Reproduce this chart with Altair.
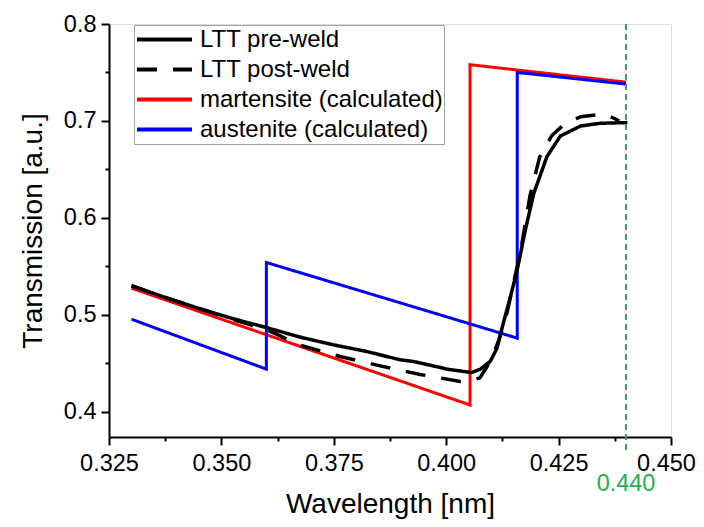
import altair as alt
import pandas as pd

# ---------------- data ----------------
series_names = ["LTT pre-weld", "LTT post-weld",
                "martensite (calculated)", "austenite (calculated)"]
series_colors = ["#000000", "#000000", "#ff0000", "#0000ff"]
series_dash = [[1, 0], [20, 16], [1, 0], [1, 0]]

pre_x = [0.330, 0.3378, 0.3452, 0.3526, 0.360, 0.3675, 0.3749, 0.3823, 0.3898,
         0.3927, 0.3987, 0.4001, 0.4039, 0.4057, 0.4076, 0.4098, 0.4113, 0.4127,
         0.4143, 0.4158, 0.4176, 0.4195, 0.4224, 0.4254, 0.4299, 0.4343, 0.4403]
pre_y = [0.530, 0.5175, 0.5063, 0.496, 0.4869, 0.477, 0.4691, 0.4622, 0.4536,
         0.4519, 0.4457, 0.444, 0.4416, 0.4405, 0.444, 0.452, 0.4656, 0.4914,
         0.519, 0.5464, 0.5876, 0.6255, 0.6632, 0.6845, 0.6948, 0.6976, 0.6983]

post_x = [0.330, 0.3378, 0.3452, 0.3526, 0.360, 0.3675, 0.3764, 0.3853, 0.3942,
          0.4031, 0.405, 0.4075, 0.4091, 0.4106, 0.4117, 0.4135, 0.4166, 0.4186,
          0.4208, 0.4235, 0.4261, 0.4299, 0.4350, 0.4373, 0.4385]
post_y = [0.530, 0.5175, 0.5063, 0.495, 0.485, 0.4687, 0.457, 0.4474, 0.4385,
          0.4313, 0.4313, 0.435, 0.4467, 0.4605, 0.474, 0.5017, 0.567, 0.622,
          0.663, 0.685, 0.6959, 0.7044, 0.7072, 0.7028, 0.700]

mart_x = [0.330, 0.4053, 0.4053, 0.440]
mart_y = [0.5275, 0.407, 0.758, 0.740]

aus_x = [0.330, 0.360, 0.360, 0.4158, 0.4158, 0.440]
aus_y = [0.4955, 0.444, 0.554, 0.476, 0.750, 0.738]

x_ticks = [0.325, 0.350, 0.375, 0.400, 0.425, 0.450]
x_minor = [0.3375, 0.3625, 0.3875, 0.4125, 0.4375]
y_ticks = [0.4, 0.5, 0.6, 0.7, 0.8]
y_minor = [0.45, 0.55, 0.65, 0.75]
x_domain = [0.325, 0.450]
y_domain = [0.374, 0.800]

marker_x = [0.440]
marker_label = ["0.440"]

# ---------------- build tables ----------------
def table(xs, ys, name):
    return pd.DataFrame({"x": xs, "y": ys, "series": name, "idx": range(len(xs))})

calc = pd.concat([table(mart_x, mart_y, series_names[2]),
                  table(aus_x, aus_y, series_names[3])], ignore_index=True)
meas = pd.concat([table(pre_x, pre_y, series_names[0]),
                  table(post_x, post_y, series_names[1])], ignore_index=True)
marker = pd.DataFrame({"x": marker_x, "label": marker_label})

W, H = 562, 413
FONT = "Liberation Sans"
TICK_FS = 23.5

xscale = alt.Scale(domain=x_domain, nice=False, zero=False)
yscale = alt.Scale(domain=y_domain, nice=False, zero=False)

x_axis = alt.Axis(values=x_ticks, format=".3f", title="Wavelength [nm]", orient="bottom",
                  labelFontSize=TICK_FS, titleFontSize=28, titleFontWeight="normal",
                  tickSize=8, tickWidth=2, domainWidth=2, labelPadding=6,
                  labelOffset={"condition": {"test": "datum.value > 0.449", "value": -5},
                               "value": 0},
                  titlePadding=16, grid=False, labelFlush=False,
                  domainColor="black", tickColor="black", labelColor="black",
                  titleColor="black", labelFont=FONT, titleFont=FONT)
y_axis = alt.Axis(values=y_ticks, format=".1f", title="Transmission [a.u.]", orient="left",
                  labelFontSize=TICK_FS, titleFontSize=28, titleFontWeight="normal",
                  tickSize=8, tickWidth=2, domainWidth=2, labelPadding=5,
                  titlePadding=16, grid=False, labelFlush=False,
                  domainColor="black", tickColor="black", labelColor="black",
                  titleColor="black", labelFont=FONT, titleFont=FONT)

legend = alt.Legend(title=None, orient="none", legendX=25, legendY=1,
                    direction="vertical", symbolType="stroke", symbolSize=3025,
                    symbolStrokeWidth=4, clipHeight=27, rowPadding=3, padding=1,
                    labelOffset=6, labelFontSize=24, labelFont=FONT, labelLimit=500,
                    labelColor="black", strokeColor="#a0a0a0", fillColor="white")

color = alt.Color("series:N", scale=alt.Scale(domain=series_names, range=series_colors),
                  legend=legend)
dash = alt.StrokeDash("series:N", scale=alt.Scale(domain=series_names, range=series_dash),
                      legend=legend)

calc_lines = alt.Chart(calc).mark_line(strokeWidth=3).encode(
    x=alt.X("x:Q", scale=xscale, axis=x_axis),
    y=alt.Y("y:Q", scale=yscale, axis=y_axis),
    color=color, strokeDash=dash, order="idx:Q", detail="series:N")

meas_lines = alt.Chart(meas).mark_line(strokeWidth=3.5).encode(
    x=alt.X("x:Q", scale=xscale, axis=None),
    y=alt.Y("y:Q", scale=yscale, axis=None),
    color=color, strokeDash=dash, order="idx:Q", detail="series:N")

minor = alt.Chart(calc).mark_point(opacity=0).encode(
    x=alt.X("x:Q", scale=xscale,
            axis=alt.Axis(values=x_minor, labels=False, domain=False, tickSize=4,
                          tickWidth=2, tickColor="black", title=None, grid=False,
                          orient="bottom")),
    y=alt.Y("y:Q", scale=yscale,
            axis=alt.Axis(values=y_minor, labels=False, domain=False, tickSize=4,
                          tickWidth=2, tickColor="black", title=None, grid=False,
                          orient="left")))

green_rule = alt.Chart(marker).mark_rule(color="#3a9a5a", strokeWidth=2,
                                         strokeDash=[6, 4]).encode(
    x=alt.X("x:Q", scale=xscale, axis=None),
    y=alt.value(0), y2=alt.value(H + 15))

green_text = alt.Chart(marker).mark_text(color="#22b14c", fontSize=TICK_FS, font=FONT,
                                         baseline="middle", align="center").encode(
    x=alt.X("x:Q", scale=xscale, axis=None),
    y=alt.value(H + 47), text="label:N")

chart = alt.layer(calc_lines, minor, meas_lines, green_rule, green_text).resolve_axis(
    x="independent", y="independent"
).properties(
    width=W, height=H,
    autosize=alt.AutoSizeParams(type="none"),
    padding={"left": 101, "top": 16, "right": 25, "bottom": 82},
).configure_view(stroke="black", strokeWidth=2).configure(background="white")

chart.save("out.html", embed_options={"renderer": "svg", "actions": False})
